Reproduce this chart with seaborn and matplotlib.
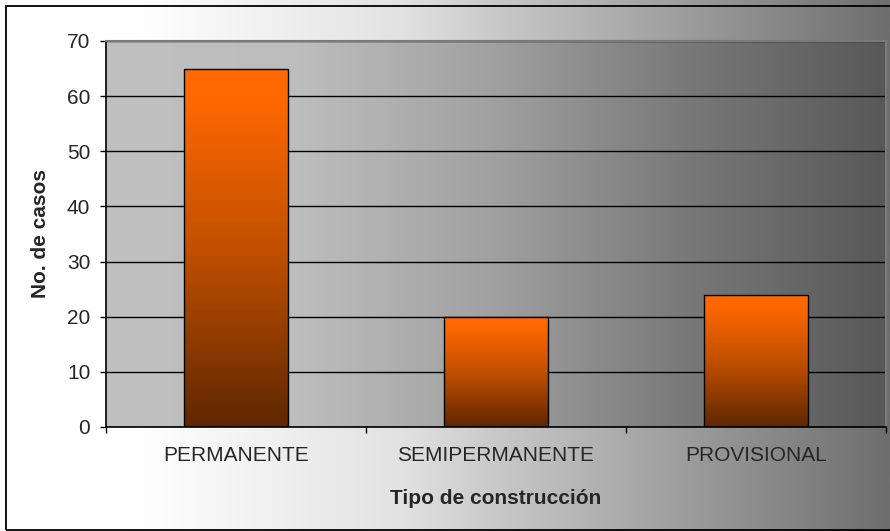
#!/usr/bin/env python

import matplotlib.pyplot as plt
import numpy as np
import pandas as pd
import seaborn as sns
from matplotlib.colors import LinearSegmentedColormap
from matplotlib.patches import Rectangle

# Data.
tipos = ["PERMANENTE", "SEMIPERMANENTE", "PROVISIONAL"]
casos = [65, 20, 24]

sns.set_style("white")
plt.rcParams["font.family"] = ["Liberation Sans", "DejaVu Sans"]

df = pd.DataFrame({"tipo": tipos, "casos": casos})

fig = plt.figure(figsize=(8.9, 5.31), dpi=100)

# Figure background: white on the left fading to dark grey on the right.
bg = fig.add_axes([0, 0, 1, 1], zorder=-10)
bg.axis("off")
fig_cmap = LinearSegmentedColormap.from_list(
    "fig_bg",
    [(0, "#ffffff"), (0.15, "#ffffff"), (0.45, "#e2e2e2"),
     (0.56, "#c8c8c8"), (1, "#6e6e6e")],
)
bg.imshow(np.linspace(0, 1, 512)[None, :], cmap=fig_cmap, aspect="auto",
          extent=[0, 1, 0, 1])
bg.set_xlim(0, 1)
bg.set_ylim(0, 1)
bg.add_patch(Rectangle((6 / 890, 1 / 531), 1.0, 1 - 7 / 531,
                       fill=False, edgecolor="black", lw=1.3))

# Plot area.
ax = fig.add_axes([0.1191, 0.1959, 0.8764, 0.7269])
sns.barplot(data=df, x="tipo", y="casos", ax=ax, width=0.4,
            color="#ff6600", edgecolor="black", linewidth=1, zorder=3)

# Plot area gradient.
area_cmap = LinearSegmentedColormap.from_list(
    "area_bg",
    [(0, "#c0c0c0"), (0.25, "#bdbdbd"), (0.5, "#a0a0a0"),
     (0.75, "#787878"), (1, "#585858")],
)
ax.imshow(np.linspace(0, 1, 512)[None, :], cmap=area_cmap, aspect="auto",
          extent=[-0.5, 2.5, 0, 70], zorder=0)

# Bars: orange at the top, dark brown at the bottom.
bar_cmap = LinearSegmentedColormap.from_list(
    "bar", [(0, "#ff6a00"), (0.08, "#ff6800"), (0.5, "#c25000"),
            (1, "#5f2700")])
for patch in ax.patches:
    x0, w, h = patch.get_x(), patch.get_width(), patch.get_height()
    im = ax.imshow(np.linspace(0, 1, 256)[:, None], cmap=bar_cmap,
                   aspect="auto", extent=[x0, x0 + w, 0, h], zorder=2.5)
    im.set_clip_path(patch)
    patch.set_facecolor("none")

ax.set_xlim(-0.5, 2.5)
ax.set_ylim(0, 70)
ax.set_yticks(range(0, 71, 10))

ax.set_axisbelow(True)
ax.yaxis.grid(True, color="black", lw=1)
ax.xaxis.grid(False)

for side in ["left", "bottom"]:
    ax.spines[side].set_color("black")
    ax.spines[side].set_linewidth(1.2)
for side in ["top", "right"]:
    ax.spines[side].set_color("#7a7a7a")
    ax.spines[side].set_linewidth(1.5)

ax.tick_params(axis="y", which="major", length=4.3, width=1, color="black",
               direction="out", left=True, pad=7, labelsize=15)
ax.tick_params(axis="x", which="major", length=0, pad=14, labelsize=15)
ax.set_xticks([-0.5, 0.5, 1.5, 2.5], minor=True)
ax.tick_params(axis="x", which="minor", length=4.3, width=1, color="black",
               direction="out", bottom=True)

ax.set_xlabel("Tipo de construcción", fontweight="bold", fontsize=15)
ax.set_ylabel("No. de casos", fontweight="bold", fontsize=15)
ax.xaxis.set_label_coords(0.5, -0.16)
ax.yaxis.set_label_coords(-0.072, 0.5)

fig.savefig("out.png", dpi=100)
